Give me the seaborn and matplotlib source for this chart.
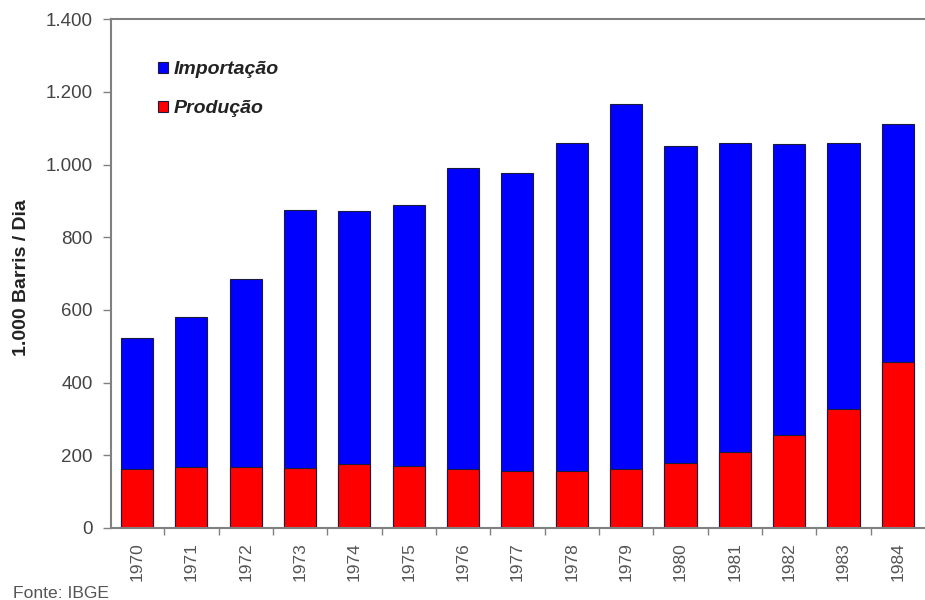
import matplotlib
matplotlib.use("Agg")
import matplotlib.pyplot as plt
from matplotlib.patches import Patch
from matplotlib.ticker import FuncFormatter, FixedLocator
import seaborn as sns
import pandas as pd

# Oil supply in Brazil, thousand barrels per day
anos = ["1970", "1971", "1972", "1973", "1974", "1975", "1976", "1977",
        "1978", "1979", "1980", "1981", "1982", "1983", "1984"]
producao = [162, 168, 168, 166, 177, 170, 162, 157, 157, 162, 180, 209, 256, 327, 457]
importacao = [360, 412, 516, 709, 694, 718, 829, 819, 903, 1006, 871, 851, 801, 733, 655]

total = [p + i for p, i in zip(producao, importacao)]
df = pd.DataFrame({"ano": anos, "producao": producao, "total": total})

sns.set_style("white")
plt.rcParams["font.family"] = ["Liberation Sans", "DejaVu Sans"]

fig = plt.figure(figsize=(9.25, 6.0), dpi=100)
ax = fig.add_axes([0.12, 0.12, 0.88, 0.848])

cor_imp = "#0000FF"
cor_prod = "#FF0000"
borda = "#1a1a40"

# stacked bars: the full height is the import on top of the domestic production
sns.barplot(data=df, x="ano", y="total", color=cor_imp, saturation=1,
            width=0.59, edgecolor=borda, linewidth=0.8, ax=ax)
sns.barplot(data=df, x="ano", y="producao", color=cor_prod, saturation=1,
            width=0.59, edgecolor=borda, linewidth=0.8, ax=ax)

ax.set_xlim(-0.48, 14.5)
ax.set_ylim(0, 1400)
ax.set_yticks(range(0, 1401, 200))
ax.yaxis.set_major_formatter(FuncFormatter(lambda v, _: f"{int(v):,}".replace(",", ".")))

ax.set_xlabel("")
ax.set_ylabel("")
fig.text(0.023, 0.537, "1.000 Barris / Dia", rotation=90, ha="center", va="center",
         fontsize=14, fontweight="bold", color="#222222")

grey = "#808080"
ax.tick_params(axis="y", which="major", direction="out", length=6, width=1,
               color=grey, labelsize=13.5, labelcolor="#444444", left=True, pad=7)
ax.tick_params(axis="x", which="major", length=0, labelsize=12.5,
               labelcolor="#555555", rotation=90, pad=10)
ax.xaxis.set_minor_locator(FixedLocator([i + 0.5 for i in range(14)]))
ax.tick_params(axis="x", which="minor", direction="out", length=5, width=1,
               color=grey, bottom=True)

for side in ("left", "bottom", "top"):
    ax.spines[side].set_visible(True)
    ax.spines[side].set_color(grey)
    ax.spines[side].set_linewidth(1.5)
ax.spines["right"].set_visible(False)

handles = [Patch(facecolor=cor_imp, edgecolor=borda, linewidth=0.8, label="Importação"),
           Patch(facecolor=cor_prod, edgecolor=borda, linewidth=0.8, label="Produção")]
leg = ax.legend(handles=handles, loc="upper left", bbox_to_anchor=(0.036, 0.952),
                frameon=False, handlelength=0.5, handleheight=0.5,
                handletextpad=0.3, labelspacing=1.15,
                prop={"size": 14, "weight": "bold", "style": "italic"})
for t in leg.get_texts():
    t.set_color("#222222")

fig.text(0.014, 0.003, "Fonte: IBGE", fontsize=12.6, color="#555555", va="baseline")

fig.savefig("out.png", dpi=100, facecolor="white")
